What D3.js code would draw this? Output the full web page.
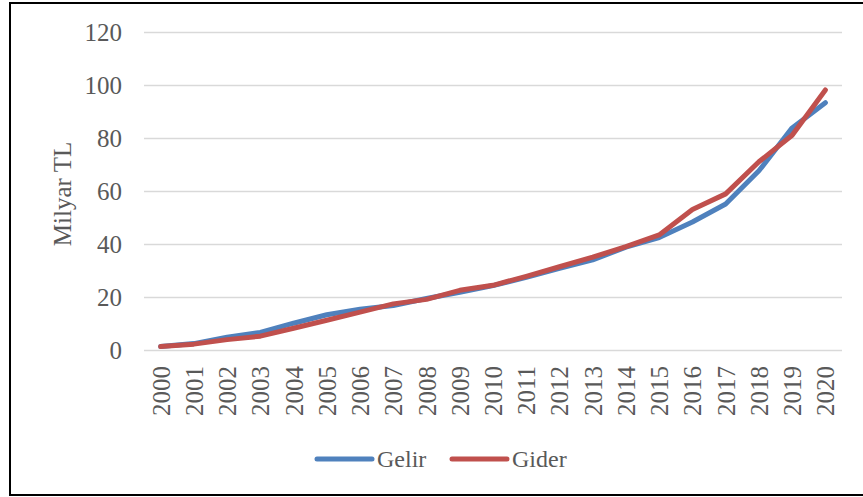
<!DOCTYPE html>
<html>
<head>
<meta charset="utf-8">
<script src="https://cdn.jsdelivr.net/npm/d3@7"></script>
<style>
  body { margin: 0; background: #fff; }
  svg { display: block; }
</style>
</head>
<body>
<svg></svg>
<script>
const years = ['2000','2001','2002','2003','2004','2005','2006','2007','2008','2009','2010',
               '2011','2012','2013','2014','2015','2016','2017','2018','2019','2020'];
const gelir = [1.5, 2.6, 5.0, 6.8, 10.3, 13.5, 15.6, 17.0, 19.6, 22.0, 24.5,
               27.6, 31.0, 34.2, 39.0, 42.6, 48.5, 55.3, 67.8, 84.0, 93.5];
const gider = [1.5, 2.4, 4.1, 5.4, 8.4, 11.4, 14.5, 17.6, 19.3, 22.7, 24.6,
               28.0, 31.6, 35.2, 39.2, 43.6, 53.2, 59.1, 71.2, 81.2, 98.3];
const yTicks = [0, 20, 40, 60, 80, 100, 120];
const series = [
  { name: 'Gelir', values: gelir, color: '#4F81BD' },
  { name: 'Gider', values: gider, color: '#C0504D' }
];

const width = 863, height = 497;
const font = '"Liberation Serif", "Times New Roman", serif';
const textColor = '#595959';

let svg = d3.select('svg')
  .attr('width', width)
  .attr('height', height);

// outer frame (right edge runs past the window)
svg.append('rect')
  .attr('x', 10).attr('y', 3)
  .attr('width', 870).attr('height', 492)
  .attr('fill', '#fff')
  .attr('stroke', '#000')
  .attr('stroke-width', 2);

let x = d3.scalePoint()
  .domain(years)
  .range([144, 842])
  .padding(0.5);

let y = d3.scaleLinear()
  .domain([0, 120])
  .range([350.5, 32.5]);

// gridlines
svg.append('g')
  .selectAll('line')
  .data(yTicks)
  .join('line')
  .attr('x1', 144).attr('x2', 842)
  .attr('y1', d => y(d)).attr('y2', d => y(d))
  .attr('stroke', '#d9d9d9')
  .attr('stroke-width', 1.3);

// y axis labels
let yAxis = svg.append('g')
  .attr('transform', 'translate(130,0)')
  .call(d3.axisLeft(y).tickValues(yTicks).tickSize(0).tickPadding(8));
yAxis.select('.domain').remove();
yAxis.selectAll('text')
  .style('font-family', font)
  .style('font-size', '25px')
  .attr('fill', textColor);

// x axis labels, rotated
let xAxis = svg.append('g')
  .attr('transform', 'translate(0,366)')
  .call(d3.axisBottom(x).tickSize(0).tickPadding(0));
xAxis.select('.domain').remove();
xAxis.selectAll('text')
  .style('font-family', font)
  .style('font-size', '25px')
  .attr('fill', textColor)
  .attr('dy', null)
  .attr('y', 0)
  .attr('transform', 'rotate(-90)')
  .attr('dominant-baseline', 'central')
  .style('text-anchor', 'end');

// y title
svg.append('text')
  .attr('transform', 'translate(62,194) rotate(-90)')
  .attr('text-anchor', 'middle')
  .attr('dominant-baseline', 'central')
  .style('font-family', font)
  .style('font-size', '25px')
  .attr('fill', textColor)
  .text('Milyar TL');

// lines
let lineGenerator = d3.line()
  .x((d, i) => x(years[i]))
  .y(d => y(d));

svg.append('g')
  .selectAll('path')
  .data(series)
  .join('path')
  .attr('d', d => lineGenerator(d.values))
  .attr('fill', 'none')
  .attr('stroke', d => d.color)
  .attr('stroke-width', 5)
  .attr('stroke-linejoin', 'round')
  .attr('stroke-linecap', 'round');

// legend
let legendX = [317, 452];
let legend = svg.append('g')
  .selectAll('g')
  .data(series)
  .join('g')
  .attr('transform', (d, i) => `translate(${legendX[i]},459)`);

legend.append('line')
  .attr('x1', 0).attr('x2', 55)
  .attr('stroke', d => d.color)
  .attr('stroke-width', 5)
  .attr('stroke-linecap', 'round');

legend.append('text')
  .attr('x', 60)
  .attr('dominant-baseline', 'central')
  .style('font-family', font)
  .style('font-size', '24px')
  .attr('fill', textColor)
  .text(d => d.name);
</script>
</body>
</html>
